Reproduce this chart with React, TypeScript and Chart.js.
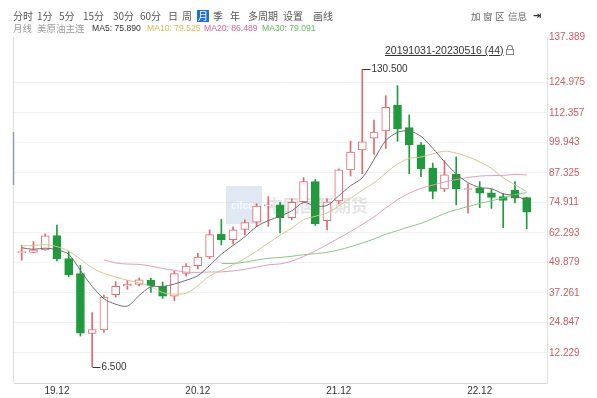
import React, { useEffect, useRef } from "react";
import { Chart, registerables } from "chart.js";
Chart.register(...registerables);

// ---- data (monthly candles, 美原油主连) ----
const months = [
  "2019-10","2019-11","2019-12","2020-01","2020-02","2020-03","2020-04","2020-05","2020-06","2020-07","2020-08","2020-09",
  "2020-10","2020-11","2020-12","2021-01","2021-02","2021-03","2021-04","2021-05","2021-06","2021-07","2021-08","2021-09",
  "2021-10","2021-11","2021-12","2022-01","2022-02","2022-03","2022-04","2022-05","2022-06","2022-07","2022-08","2022-09",
  "2022-10","2022-11","2022-12","2023-01","2023-02","2023-03","2023-04","2023-05",
];
const opens = [54.1,54.2,55.2,61.2,51.6,45.3,20.4,21.8,36.5,40.3,40.8,42.5,40.0,35.9,45.4,48.6,52.3,61.7,59.5,63.8,66.8,73.6,74.0,68.6,75.3,83.7,67.4,75.6,88.6,96.9,101.8,104.8,115.5,106.2,99.0,89.3,80.6,86.8,80.4,80.9,79.0,77.4,80.2,77.0];
const highs = [57.0,58.7,61.9,65.6,54.7,48.7,29.1,36.4,42.0,42.5,43.5,43.4,41.8,46.3,49.5,53.8,63.6,67.9,64.8,67.8,74.5,77.5,75.0,76.5,85.4,84.6,76.5,89.0,100.6,130.5,109.4,119.5,123.7,111.5,100.0,91.4,92.5,94.0,82.8,83.7,80.5,78.8,83.7,77.2];
const lows = [50.9,54.0,55.0,50.6,44.0,19.3,6.5,20.8,35.5,38.8,40.2,37.5,35.0,34.0,44.3,47.3,51.6,57.3,57.6,61.6,64.9,65.0,62.3,67.8,74.9,65.4,63.5,74.3,86.0,87.0,95.0,97.5,100.5,87.0,85.8,76.5,79.5,74.0,70.5,72.8,72.5,64.5,74.8,64.0];
const closes = [54.2,55.2,61.1,51.6,44.8,20.5,22.0,35.5,40.0,40.8,42.7,40.2,35.9,45.3,48.5,52.2,61.6,59.4,63.6,66.6,73.5,74.0,68.6,75.0,83.7,66.2,75.3,88.6,96.0,100.3,104.3,114.7,105.8,99.0,89.0,79.6,86.5,80.6,80.6,78.9,77.1,75.8,76.8,70.9];

const ma5 = [56.10,55.44,55.94,55.24,53.38,46.64,40.00,34.88,32.56,31.76,36.20,39.84,39.92,40.98,42.52,44.42,48.70,53.40,57.06,60.68,64.94,67.42,69.26,71.54,74.96,73.50,73.76,77.76,81.96,85.28,92.90,100.78,104.22,104.82,102.56,97.62,91.98,86.94,83.26,81.24,80.74,78.60,77.84,75.90];
const ma10 = [56.90,57.04,57.43,56.58,54.67,51.37,47.72,45.41,43.90,42.57,41.42,39.92,37.40,36.77,37.14,40.31,44.27,46.66,49.02,51.60,54.68,58.06,61.33,64.30,67.82,69.22,70.59,73.51,76.75,80.12,83.20,87.27,90.99,93.39,93.92,95.26,96.38,95.58,94.04,91.90,89.18,85.29,82.39,79.53];
const ma20 = [null,null,null,null,null,null,null,51.07,49.80,49.30,49.16,48.48,47.42,46.68,45.91,45.84,46.00,46.04,46.46,47.09,48.05,48.99,49.37,50.54,52.48,54.77,57.43,60.09,62.89,65.86,68.94,72.67,76.16,78.85,80.87,82.24,83.49,84.55,85.40,86.01,86.19,86.28,86.69,86.49];
const ma30 = [null,null,null,null,null,null,null,null,null,null,null,null,null,null,null,null,null,49.60,49.54,50.06,51.00,51.67,52.05,52.55,53.21,53.63,54.19,55.19,56.56,58.10,59.77,61.75,63.24,64.82,66.29,68.26,70.41,71.92,73.27,74.54,75.69,76.87,78.24,79.09];

const xTickIndex = [3, 15, 27, 39];
const xTickLabels = ["19.12", "20.12", "21.12", "22.12"];
const yTickValues = [12.229, 24.847, 37.261, 49.879, 62.293, 74.911, 87.325, 99.943, 112.357, 124.975];
const yTopLabel = "137.389";
const Y_MIN = -0.3;
const Y_MAX = 144;

const RED = "#e06a70";
const GREEN = "#1f9a3c";
const NUM_FONT = '"Liberation Sans", Arial, sans-serif';
const CJK_FONT = '"Noto Sans CJK SC", "Liberation Sans", sans-serif';

const toolbar: [string, number][] = [
  ["分时", 13], ["1分", 37], ["5分", 59], ["15分", 83], ["30分", 113], ["60分", 140],
  ["日", 168], ["周", 182], ["月", 198], ["季", 213], ["年", 230], ["多周期", 248], ["设置", 283], ["画线", 313],
];
const toolbarRight: [string, number][] = [["加", 471], ["窗", 483], ["区", 495], ["信息", 508]];

export default function App() {
  const ref = useRef<HTMLCanvasElement>(null);

  useEffect(() => {
    const idx = closes.map((_, i) => i);
    const up = idx.map((i) => closes[i] >= opens[i]);

    const extras = {
      id: "extras",
      beforeDatasetsDraw(chart: any) {
        const { ctx, chartArea: a } = chart;
        ctx.save();
        // watermark
        ctx.fillStyle = "rgba(175,198,225,0.4)";
        ctx.fillRect(226, 186, 36, 38);
        ctx.fillStyle = "rgba(255,255,255,0.75)";
        ctx.font = "bold 10px " + NUM_FONT;
        ctx.textBaseline = "middle";
        ctx.fillText("cifco", 231, 206);
        ctx.fillStyle = "rgba(120,120,120,0.2)";
        ctx.font = "bold 17px " + CJK_FONT;
        ctx.fillText("中国国际期货", 266, 206);
        // left border
        ctx.strokeStyle = "#dedede";
        ctx.lineWidth = 1;
        ctx.beginPath();
        ctx.moveTo(a.left - 0.5, a.top);
        ctx.lineTo(a.left - 0.5, a.bottom);
        ctx.stroke();
        ctx.strokeStyle = "#8d9db6";
        ctx.lineWidth = 1.5;
        ctx.beginPath();
        ctx.moveTo(a.left - 0.5, 132);
        ctx.lineTo(a.left - 0.5, 185);
        ctx.stroke();
        ctx.restore();
      },
      afterDatasetsDraw(chart: any) {
        const { ctx } = chart;
        const xs = chart.scales.x;
        const ys = chart.scales.y;
        let hi = 0;
        let lo = 0;
        highs.forEach((v, i) => { if (v > highs[hi]) hi = i; });
        lows.forEach((v, i) => { if (v < lows[lo]) lo = i; });
        const mark = (i: number, v: number) => {
          const px = Math.round(xs.getPixelForValue(i)) + 0.5;
          const py = Math.round(ys.getPixelForValue(v)) + 0.5;
          ctx.save();
          ctx.strokeStyle = "#333";
          ctx.lineWidth = 1;
          ctx.beginPath();
          ctx.moveTo(px, py);
          ctx.lineTo(px + 8, py);
          ctx.stroke();
          ctx.fillStyle = "#333";
          ctx.font = "10px " + NUM_FONT;
          ctx.textBaseline = "middle";
          ctx.textAlign = "left";
          ctx.fillText(v.toFixed(3), px + 9, py);
          ctx.restore();
        };
        mark(hi, highs[hi]);
        mark(lo, lows[lo]);
      },
    };

    const line = (label: string, arr: (number | null)[], color: string) => ({
      type: "line" as const,
      label,
      data: idx.map((i) => ({ x: i, y: arr[i] })),
      borderColor: color,
      borderWidth: 1,
      pointRadius: 0,
      tension: 0.3,
      order: 0,
    });

    const chart = new Chart(ref.current!, {
      type: "bar",
      data: {
        labels: months,
        datasets: [
          line("MA5", ma5, "#6e6e6e"),
          line("MA10", ma10, "#d5c593"),
          line("MA20", ma20, "#e39bbb"),
          line("MA30", ma30, "#86c886"),
          {
            type: "bar",
            label: "body",
            data: idx.map((i) => ({ x: i, y: [opens[i], closes[i]] })),
            backgroundColor: idx.map((i) => (up[i] ? "#ffffff" : GREEN)),
            borderColor: idx.map((i) => (up[i] ? RED : GREEN)),
            borderWidth: 1,
            borderSkipped: false,
            barThickness: 8,
            minBarLength: 1,
            grouped: false,
            order: 1,
          } as any,
          {
            type: "bar",
            label: "wick",
            data: idx.map((i) => ({ x: i, y: [lows[i], highs[i]] })),
            backgroundColor: idx.map((i) => (up[i] ? RED : GREEN)),
            borderWidth: 0,
            barThickness: 1,
            grouped: false,
            order: 2,
          } as any,
        ],
      },
      options: {
        responsive: false,
        animation: false,
        layout: { padding: { left: 14, top: 37, right: 0, bottom: 0 } },
        plugins: { legend: { display: false }, tooltip: { enabled: false } },
        scales: {
          x: {
            type: "linear",
            min: -0.656,
            max: 44.73,
            offset: false,
            grid: { display: false, drawTicks: false },
            border: { display: true, color: "#d4d4d4" },
            afterFit: (s: any) => { s.height = 15; },
            afterBuildTicks: (s: any) => { s.ticks = xTickIndex.map((v) => ({ value: v })); },
            ticks: {
              autoSkip: false,
              maxRotation: 0,
              padding: 2,
              color: "#333",
              font: { size: 10, family: NUM_FONT },
              callback: (v: any) => {
                const k = xTickIndex.indexOf(Number(v));
                return k >= 0 ? xTickLabels[k] : "";
              },
            },
          },
          y: {
            position: "right",
            min: Y_MIN,
            max: Y_MAX,
            grid: {
              drawTicks: false,
              color: (c: any) => (c.tick && c.tick.value === Y_MAX ? "rgba(0,0,0,0)" : "#f1f1f1"),
            },
            border: { display: true, color: "#e3e3e3" },
            afterFit: (s: any) => { s.width = 50; },
            afterBuildTicks: (s: any) => {
              s.ticks = [...yTickValues.map((v) => ({ value: v })), { value: Y_MAX }];
            },
            ticks: {
              padding: 2,
              color: "#c95a64",
              font: { size: 10, family: NUM_FONT },
              callback: (v: any) => (Number(v) === Y_MAX ? yTopLabel : Number(v).toFixed(3)),
            },
          },
        },
      } as any,
      plugins: [extras],
    });
    return () => chart.destroy();
  }, []);

  const abs = (left: number, top: number): React.CSSProperties => ({
    position: "absolute",
    left,
    top,
    whiteSpace: "nowrap",
    lineHeight: "12px",
  });

  return (
    <div style={{ position: "fixed", left: 0, top: 0, width: 597, height: 398, background: "#fff", overflow: "hidden" }}>
      <canvas ref={ref} width={597} height={398} style={{ position: "absolute", left: 0, top: 0 }} />
      {toolbar.map(([t, x]) =>
        t === "月" ? (
          <span key={t} style={{ ...abs(x - 1, 10), fontFamily: CJK_FONT, fontSize: 10, color: "#fff", background: "#1f6fd6", padding: "0 1px" }}>{t}</span>
        ) : (
          <span key={t} style={{ ...abs(x, 10), fontFamily: CJK_FONT, fontSize: 10, color: "#555" }}>{t}</span>
        )
      )}
      {toolbarRight.map(([t, x]) => (
        <span key={t} style={{ ...abs(x, 10), fontFamily: CJK_FONT, fontSize: 9.5, color: "#666" }}>{t}</span>
      ))}
      <span style={{ ...abs(533, 10), fontFamily: '"DejaVu Sans", sans-serif', fontSize: 10, color: "#333", fontWeight: "bold" }}>⇥</span>
      <span style={{ ...abs(13, 22), fontFamily: CJK_FONT, fontSize: 9.5, color: "#999" }}>月线</span>
      <span style={{ ...abs(37, 22), fontFamily: CJK_FONT, fontSize: 9.5, color: "#999" }}>美原油主连</span>
      <span style={{ ...abs(92, 22), fontFamily: NUM_FONT, fontSize: 8.6, color: "#333" }}>MA5: 75.890</span>
      <span style={{ ...abs(147, 22), fontFamily: NUM_FONT, fontSize: 8.6, color: "#d9b94c" }}>MA10: 79.525</span>
      <span style={{ ...abs(204, 22), fontFamily: NUM_FONT, fontSize: 8.6, color: "#e0609a" }}>MA20: 86.489</span>
      <span style={{ ...abs(262, 22), fontFamily: NUM_FONT, fontSize: 8.6, color: "#5cb85c" }}>MA30: 79.091</span>
      <span style={{ ...abs(385, 44), fontFamily: NUM_FONT, fontSize: 10.5, color: "#333", textDecoration: "underline" }}>20191031-20230516 (44)</span>
      <div style={{ position: "absolute", left: 507, top: 45, width: 4, height: 4, border: "1px solid #888", borderBottom: "none", borderRadius: "3px 3px 0 0" }} />
      <div style={{ position: "absolute", left: 506, top: 49, width: 6, height: 4, border: "1px solid #888" }} />
    </div>
  );
}
